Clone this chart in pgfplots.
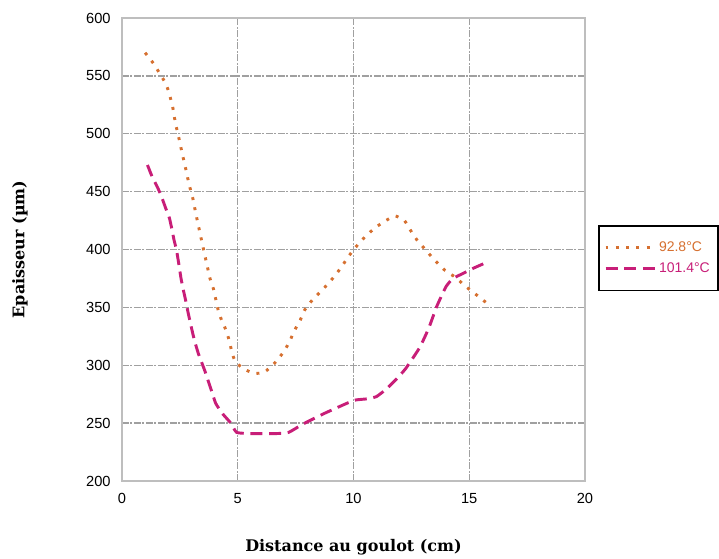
\documentclass[border=0pt]{standalone}
\usepackage{fontspec}
\setmainfont{Liberation Sans}
\newfontfamily\labfont{DejaVu Serif}
\usepackage{pgfplots}
\pgfplotsset{compat=1.18}
\definecolor{orng}{RGB}{214,112,48}
\definecolor{mgnt}{RGB}{200,30,120}
\definecolor{gridc}{RGB}{160,160,160}
\definecolor{framec}{RGB}{190,190,190}
\begin{document}
\begin{tikzpicture}
\path[use as bounding box] (-91.5pt,-58.5pt) rectangle (447.75pt,360.75pt);
\begin{axis}[
  at={(0,0)}, anchor=south west,
  scale only axis, width=347.25pt, height=347.25pt,
  xmin=0, xmax=20, ymin=200, ymax=600,
  xtick={0,5,...,20}, ytick={200,250,...,600},
  axis line style={draw=framec, line width=1.1pt},
  major tick length=0pt,
  grid=major,
  major grid style={draw=gridc, line width=1.1pt, dash pattern=on 5pt off 1.2pt on 1.6pt off 1.2pt},
  /pgf/number format/assume math mode=true,
  tick label style={font=\fontsize{11}{13}\selectfont},
  xticklabel style={yshift=-6pt},
  yticklabel style={xshift=-5pt},
  xlabel={\labfont\bfseries\fontsize{12}{14}\selectfont Distance au goulot (cm)},
  ylabel={\labfont\bfseries\fontsize{12}{14}\selectfont Epaisseur (µm)},
  xlabel style={at={(axis description cs:0.5,0)}, anchor=center, yshift=-50pt},
  ylabel style={at={(axis description cs:0,0.5)}, anchor=center, rotate=0, xshift=0pt, yshift=76.5pt},
  legend style={at={(1.028,0.553)}, anchor=north west, draw=black, line width=1.2pt,
    font=\fontsize{10.5}{12}\selectfont, inner xsep=4pt, inner ysep=10pt, row sep=3pt},
  legend cell align=left,
  legend image code/.code={\draw[#1] (0cm,0cm) -- (1.3cm,0cm);},
]
\addplot[orng, line width=2.2pt, dash pattern=on 2.2pt off 5.5pt, smooth, tension=0.3] coordinates {
(1.0,570)(1.35,561)(1.6,553)(1.9,543)(2.05,534)(2.2,522)(2.3,510)(2.45,497)(2.6,483)(2.75,470)(2.9,456)(3.05,445)(3.2,430)(3.35,416)(3.5,402)(3.6,393)(3.7,384)(3.8,375)(3.95,366)(4.05,357)(4.15,348)(4.3,339)(4.5,330)(4.65,320)(4.75,311)(4.9,303)(5.25,297)(5.7,293)(6.15,294)(6.6,302)(7.0,312)(7.25,321)(7.45,330)(7.7,339)(7.9,348)(8.25,357)(8.7,366)(9.1,375)(9.45,384)(9.75,393)(10.05,401)(10.5,411)(10.95,419)(11.4,425)(11.8,429)(12.2,425)(12.45,417)(12.75,408)(13.1,400)(13.5,391)(13.95,382)(14.4,376)(14.85,368)(15.3,361)(15.8,353)
};
\addlegendentry{\textcolor{orng}{92.8°C}}
\addplot[mgnt, line width=2.2pt, dash pattern=on 9pt off 5pt, smooth, tension=0.3] coordinates {
(1.1,473)(1.3,463)(1.55,453)(1.7,446)(1.9,435)(2.05,427)(2.15,418)(2.25,408)(2.35,400)(2.45,388)(2.55,375)(2.65,365)(2.75,356)(2.85,346)(2.95,337)(3.05,328)(3.15,320)(3.3,310)(3.45,302)(3.6,294)(3.75,285)(3.9,276)(4.05,267)(4.35,258)(4.7,250)(4.95,242)(5.5,241)(6.1,241)(6.7,241)(7.2,242)(7.8,249)(8.7,258)(9.7,267)(10.1,270)(10.6,271)(11.0,273)(11.45,280)(11.85,288)(12.25,297)(12.85,315)(13.25,332)(13.6,351)(14.0,368)(14.3,375)(14.7,379)(15.2,384)(15.65,388)(15.85,390)
};
\addlegendentry{\textcolor{mgnt}{101.4°C}}
\end{axis}
\end{tikzpicture}
\end{document}
